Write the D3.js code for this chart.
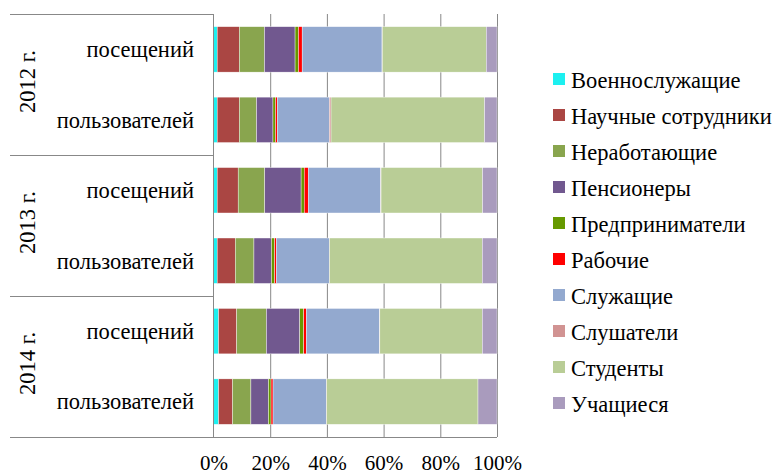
<!DOCTYPE html>
<html>
<head>
<meta charset="utf-8">
<script src="https://cdn.jsdelivr.net/npm/d3@7"></script>
<style>
	body { margin: 0; background: #fff; }
	svg { font-family: "Liberation Serif", "Times New Roman", serif; }
</style>
</head>
<body>
<svg id="chart" width="774" height="470"></svg>
<script>
// rows, top to bottom
var years = ["2012 г.", "2013 г.", "2014 г."];
var kinds = ["посещений", "пользователей"];

var seriesNames = ["Военнослужащие", "Научные сотрудники", "Неработающие", "Пенсионеры",
	"Предприниматели", "Рабочие", "Служащие", "Слушатели", "Студенты", "Учащиеся"];
var seriesColors = ["#1cf0f0", "#aa4643", "#89a54e", "#71588f", "#669900",
	"#ff0000", "#93a9cf", "#d19392", "#b9cd96", "#a99bbd"];

// percent values, one per row (2012 пос, 2012 польз, 2013 пос, 2013 польз, 2014 пос, 2014 польз)
var voen   = [1.3, 1.3, 1.3, 1.3, 1.8, 1.8];
var nauch  = [7.8, 7.8, 7.4, 6.4, 6.4, 4.9];
var nerab  = [8.9, 6.1, 9.4, 6.6, 10.5, 6.5];
var pens   = [10.8, 5.8, 12.8, 6.2, 11.8, 6.2];
var predpr = [1.2, 0.9, 1.1, 1.1, 1.4, 0.9];
var rab    = [1.3, 0.6, 1.4, 0.6, 0.9, 0.7];
var sluzh  = [28.2, 18.4, 25.6, 18.7, 25.9, 18.8];
var slush  = [0.1, 0.6, 0.1, 0.1, 0.1, 0.1];
var stud   = [36.7, 54.2, 35.8, 54.0, 36.2, 53.4];
var uch    = [3.8, 4.4, 5.1, 5.2, 5.2, 6.7];

var tickValues = [0, 0.2, 0.4, 0.6, 0.8, 1];

var seriesValues = [voen, nauch, nerab, pens, predpr, rab, sluzh, slush, stud, uch];

var rows = [];
years.forEach((yr, yi) => {
	kinds.forEach((k, ki) => {
		var row = { id: yr + "|" + k, year: yr, kind: k };
		seriesNames.forEach((s, si) => {
			row[s] = seriesValues[si][yi * kinds.length + ki];
		});
		rows.push(row);
	});
});

var svg = d3.select("#chart");

var plotLeft = 213.5, plotRight = 497, plotTop = 14, plotBottom = 437;
var fontSize = 22.5;
var tickFontSize = 21;

var x = d3.scaleLinear().domain([0, 1]).range([plotLeft, plotRight]);
var y = d3.scaleBand()
	.domain(rows.map((d) => d.id))
	.range([plotTop, plotBottom])
	.paddingInner(0.355)
	.paddingOuter(0.18);

var color = d3.scaleOrdinal().domain(seriesNames).range(seriesColors);

// vertical gridlines
svg.append("g")
	.attr("transform", "translate(0," + plotBottom + ")")
	.call(d3.axisBottom(x).tickValues(tickValues.slice(1)).tickSize(-(plotBottom - plotTop)).tickFormat(""))
	.call((g) => g.select(".domain").remove())
	.selectAll("line")
	.attr("stroke", "#888")
	.attr("stroke-width", 1);

var stack = d3.stack()
	.keys(seriesNames)
	.offset(d3.stackOffsetExpand);

var layers = stack(rows);

svg.append("g")
	.selectAll("g")
	.data(layers)
	.enter().append("g")
		.attr("fill", (d) => color(d.key))
	.selectAll("rect")
	.data((d) => d)
	.enter().append("rect")
		.attr("x", (d) => x(d[0]))
		.attr("width", (d) => x(d[1]) - x(d[0]))
		.attr("y", (d) => y(d.data.id))
		.attr("height", y.bandwidth())
		.attr("stroke", "#fff")
		.attr("stroke-width", 0.4);

// frame lines of the left category panel
var lineColor = "#888";
svg.append("line")
	.attr("x1", plotLeft).attr("x2", plotLeft)
	.attr("y1", plotTop).attr("y2", plotBottom)
	.attr("stroke", lineColor);

var sepY = [plotTop].concat(years.slice(0, -1).map((yr, i) => {
	return (y(yr + "|" + kinds[1]) + y.bandwidth() + y(years[i + 1] + "|" + kinds[0])) / 2;
}));

svg.selectAll(".sep")
	.data(sepY)
	.enter().append("line")
		.attr("class", "sep")
		.attr("x1", 10).attr("x2", plotLeft)
		.attr("y1", (d) => Math.round(d) + 0.5).attr("y2", (d) => Math.round(d) + 0.5)
		.attr("stroke", lineColor);

svg.append("line")
	.attr("x1", 10).attr("x2", plotRight)
	.attr("y1", plotBottom + 0.5).attr("y2", plotBottom + 0.5)
	.attr("stroke", lineColor);

// x tick labels (bottom row is clipped by the window, as in the original)
svg.append("g")
	.attr("transform", "translate(0," + plotBottom + ")")
	.call(d3.axisBottom(x).tickValues(tickValues).tickSize(0).tickPadding(18).tickFormat(d3.format(".0%")))
	.call((g) => g.select(".domain").remove())
	.selectAll("text")
	.attr("font-family", "Liberation Serif")
	.attr("font-size", tickFontSize)
	.attr("fill", "#000");

// category labels
svg.selectAll(".cat")
	.data(rows)
	.enter().append("text")
		.attr("class", "cat")
		.attr("x", 194)
		.attr("y", (d) => y(d.id) + y.bandwidth() / 2)
		.attr("dy", "0.35em")
		.attr("text-anchor", "end")
		.attr("font-size", fontSize)
		.text((d) => d.kind);

// year labels, rotated
var yearBounds = sepY.concat([plotBottom]);
svg.selectAll(".year")
	.data(years)
	.enter().append("text")
		.attr("class", "year")
		.attr("transform", (d, i) => {
			var cy = (yearBounds[i] + yearBounds[i + 1]) / 2 - 3;
			return "translate(27," + cy + ") rotate(-90)";
		})
		.attr("dy", "0.35em")
		.attr("text-anchor", "middle")
		.attr("font-size", fontSize)
		.text((d) => d);

// legend
var legend = svg.append("g")
	.attr("transform", "translate(553,80)");

var item = legend.selectAll("g")
	.data(seriesNames)
	.enter().append("g")
		.attr("transform", (d, i) => "translate(0," + (i * 36) + ")");

item.append("rect")
	.attr("x", 0)
	.attr("y", -7)
	.attr("width", 12)
	.attr("height", 12)
	.attr("fill", (d) => color(d));

item.append("text")
	.attr("x", 18)
	.attr("dy", "0.35em")
	.attr("font-size", fontSize)
	.text((d) => d);
</script>
</body>
</html>
